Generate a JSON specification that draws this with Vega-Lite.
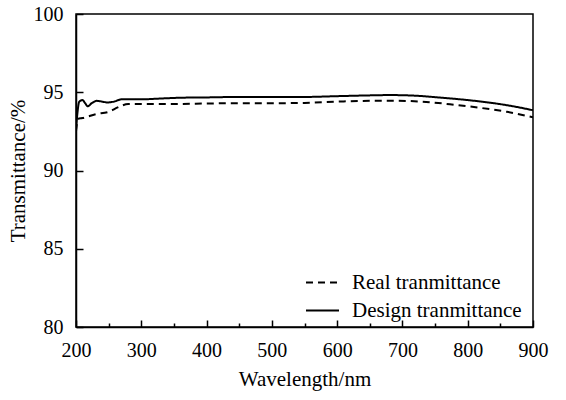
{
  "$schema": "https://vega.github.io/schema/vega-lite/v6.json",
  "width": 457,
  "height": 313,
  "autosize": {"type": "none"},
  "padding": {"left": 76, "top": 14, "right": 33, "bottom": 73},
  "background": "white",
  "config": {
    "font": "Liberation Serif",
    "view": {"stroke": "black", "strokeWidth": 1.5}
  },
  "data": {
    "values": [
      {"wl": 200, "t": 92.6, "s": "Design tranmittance"},
      {"wl": 202, "t": 93.6, "s": "Design tranmittance"},
      {"wl": 205, "t": 94.4, "s": "Design tranmittance"},
      {"wl": 210, "t": 94.5, "s": "Design tranmittance"},
      {"wl": 214, "t": 94.3, "s": "Design tranmittance"},
      {"wl": 218, "t": 94.1, "s": "Design tranmittance"},
      {"wl": 224, "t": 94.3, "s": "Design tranmittance"},
      {"wl": 232, "t": 94.45, "s": "Design tranmittance"},
      {"wl": 240, "t": 94.4, "s": "Design tranmittance"},
      {"wl": 248, "t": 94.35, "s": "Design tranmittance"},
      {"wl": 258, "t": 94.4, "s": "Design tranmittance"},
      {"wl": 270, "t": 94.55, "s": "Design tranmittance"},
      {"wl": 285, "t": 94.55, "s": "Design tranmittance"},
      {"wl": 300, "t": 94.55, "s": "Design tranmittance"},
      {"wl": 330, "t": 94.6, "s": "Design tranmittance"},
      {"wl": 360, "t": 94.65, "s": "Design tranmittance"},
      {"wl": 400, "t": 94.67, "s": "Design tranmittance"},
      {"wl": 450, "t": 94.7, "s": "Design tranmittance"},
      {"wl": 500, "t": 94.7, "s": "Design tranmittance"},
      {"wl": 550, "t": 94.7, "s": "Design tranmittance"},
      {"wl": 600, "t": 94.75, "s": "Design tranmittance"},
      {"wl": 650, "t": 94.8, "s": "Design tranmittance"},
      {"wl": 680, "t": 94.82, "s": "Design tranmittance"},
      {"wl": 720, "t": 94.78, "s": "Design tranmittance"},
      {"wl": 760, "t": 94.65, "s": "Design tranmittance"},
      {"wl": 800, "t": 94.5, "s": "Design tranmittance"},
      {"wl": 840, "t": 94.3, "s": "Design tranmittance"},
      {"wl": 870, "t": 94.1, "s": "Design tranmittance"},
      {"wl": 900, "t": 93.85, "s": "Design tranmittance"},
      {"wl": 200, "t": 92.5, "s": "Real tranmittance"},
      {"wl": 203, "t": 93.3, "s": "Real tranmittance"},
      {"wl": 210, "t": 93.35, "s": "Real tranmittance"},
      {"wl": 230, "t": 93.6, "s": "Real tranmittance"},
      {"wl": 250, "t": 93.75, "s": "Real tranmittance"},
      {"wl": 265, "t": 94.05, "s": "Real tranmittance"},
      {"wl": 280, "t": 94.25, "s": "Real tranmittance"},
      {"wl": 300, "t": 94.25, "s": "Real tranmittance"},
      {"wl": 350, "t": 94.25, "s": "Real tranmittance"},
      {"wl": 400, "t": 94.28, "s": "Real tranmittance"},
      {"wl": 450, "t": 94.3, "s": "Real tranmittance"},
      {"wl": 500, "t": 94.3, "s": "Real tranmittance"},
      {"wl": 550, "t": 94.32, "s": "Real tranmittance"},
      {"wl": 600, "t": 94.4, "s": "Real tranmittance"},
      {"wl": 650, "t": 94.45, "s": "Real tranmittance"},
      {"wl": 690, "t": 94.45, "s": "Real tranmittance"},
      {"wl": 730, "t": 94.4, "s": "Real tranmittance"},
      {"wl": 780, "t": 94.2, "s": "Real tranmittance"},
      {"wl": 820, "t": 94.0, "s": "Real tranmittance"},
      {"wl": 860, "t": 93.75, "s": "Real tranmittance"},
      {"wl": 900, "t": 93.4, "s": "Real tranmittance"}
    ]
  },
  "mark": {"type": "line", "strokeWidth": 2, "interpolate": "monotone", "clip": true},
  "encoding": {
    "x": {
      "field": "wl", "type": "quantitative",
      "scale": {"domain": [200, 900], "nice": false},
      "axis": {
        "title": "Wavelength/nm",
        "values": [200, 250, 300, 350, 400, 450, 500, 550, 600, 650, 700, 750, 800, 850, 900],
        "labelExpr": "datum.value % 100 === 0 ? datum.label : ''",
        "tickSize": {"condition": {"test": "datum.value % 100 === 0", "value": -7}, "value": -4},
        "tickColor": "black", "tickWidth": 1.5,
        "domainColor": "black", "domainWidth": 1.5,
        "grid": false,
        "labelFontSize": 20, "labelColor": "black", "labelPadding": 20, "labelFlush": false,
        "titleFontSize": 21, "titleFontWeight": "normal", "titleColor": "black", "titlePadding": 8
      }
    },
    "y": {
      "field": "t", "type": "quantitative",
      "scale": {"domain": [80, 100], "nice": false, "zero": false},
      "axis": {
        "title": "Transmittance/%",
        "values": [80, 85, 90, 95, 100],
        "tickSize": -7,
        "tickColor": "black", "tickWidth": 1.5,
        "domainColor": "black", "domainWidth": 1.5,
        "grid": false,
        "labelFontSize": 20, "labelColor": "black", "labelPadding": 20,
        "titleFontSize": 21, "titleFontWeight": "normal", "titleColor": "black", "titlePadding": 5
      }
    },
    "color": {
      "field": "s", "type": "nominal",
      "scale": {"domain": ["Real tranmittance", "Design tranmittance"], "range": ["black", "black"]},
      "legend": {
        "title": null,
        "orient": "none", "legendX": 229, "legendY": 251,
        "symbolType": "stroke", "symbolSize": 1089, "symbolStrokeWidth": 2,
        "labelFontSize": 21, "labelColor": "black", "labelOffset": 12, "labelLimit": 400,
        "rowPadding": -9
      }
    },
    "strokeDash": {
      "field": "s", "type": "nominal",
      "scale": {"domain": ["Real tranmittance", "Design tranmittance"], "range": [[7, 5], [1, 0]]},
      "legend": null
    }
  }
}
